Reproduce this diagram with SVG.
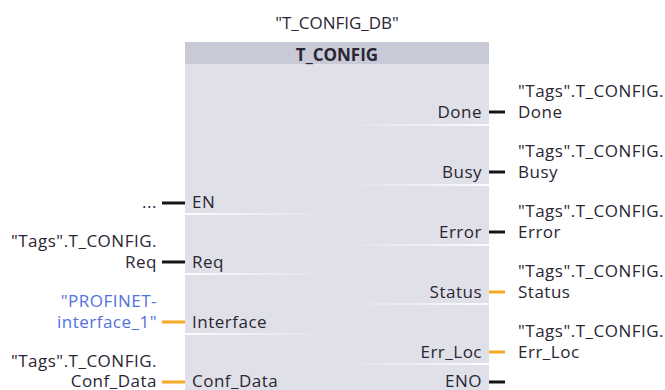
<svg xmlns="http://www.w3.org/2000/svg" width="665" height="390" viewBox="0 0 665 390">
<defs>
<linearGradient id="sepL" x1="0" y1="0" x2="1" y2="0">
<stop offset="0" stop-color="#ffffff" stop-opacity="0.9"/>
<stop offset="1" stop-color="#ffffff" stop-opacity="0"/>
</linearGradient>
<linearGradient id="sepR" x1="1" y1="0" x2="0" y2="0">
<stop offset="0" stop-color="#ffffff" stop-opacity="0.9"/>
<stop offset="1" stop-color="#ffffff" stop-opacity="0"/>
</linearGradient>
</defs>
<style>
text{font-family:"Open Sans","Noto Sans","Liberation Sans",sans-serif;font-size:17px;fill:#2a2633;letter-spacing:0.5px}
.r{text-anchor:end}
.m{text-anchor:middle;letter-spacing:0}
.b{font-weight:bold}
.blue{fill:#5271dd}
.blk{stroke:#141414;stroke-width:3}
.org{stroke:#f7a823;stroke-width:3}
</style>
<rect width="665" height="390" fill="#ffffff"/>
<g id="block">
<text class="m" x="337" y="29">"T_CONFIG_DB"</text>
<rect x="185" y="42" width="304" height="350" fill="#dfe0e8"/>
<rect x="185" y="42" width="304" height="22" fill="#c9cad7"/>
<text class="m b" x="337" y="61">T_CONFIG</text>
<rect x="185" y="213" width="150" height="2" fill="url(#sepL)"/>
<rect x="185" y="273" width="150" height="2" fill="url(#sepL)"/>
<rect x="185" y="333" width="150" height="2" fill="url(#sepL)"/>
<rect x="340" y="124" width="149" height="2" fill="url(#sepR)"/>
<rect x="340" y="184" width="149" height="2" fill="url(#sepR)"/>
<rect x="340" y="244" width="149" height="2" fill="url(#sepR)"/>
<rect x="340" y="303" width="149" height="2" fill="url(#sepR)"/>
<rect x="340" y="363" width="149" height="2" fill="url(#sepR)"/>
<text x="192" y="208">EN</text>
<text x="192" y="268">Req</text>
<text x="192" y="328">Interface</text>
<text x="192" y="387">Conf_Data</text>
<text class="r" x="482" y="118">Done</text>
<text class="r" x="482" y="178">Busy</text>
<text class="r" x="482" y="238">Error</text>
<text class="r" x="482" y="298">Status</text>
<text class="r" x="482" y="358">Err_Loc</text>
<text class="r" x="482" y="387">ENO</text>
</g>
<g id="connectors">
<line class="blk" x1="162" y1="203" x2="185" y2="203"/>
<line class="blk" x1="162" y1="262" x2="185" y2="262"/>
<line class="org" x1="162" y1="322" x2="185" y2="322"/>
<line class="org" x1="162" y1="382" x2="185" y2="382"/>
<line class="blk" x1="489" y1="112" x2="505" y2="112"/>
<line class="blk" x1="489" y1="172" x2="505" y2="172"/>
<line class="blk" x1="489" y1="232" x2="505" y2="232"/>
<line class="org" x1="489" y1="292" x2="505" y2="292"/>
<line class="org" x1="489" y1="352" x2="505" y2="352"/>
<line class="blk" x1="489" y1="382" x2="505" y2="382"/>
</g>
<g id="inputs">
<text class="r" x="157" y="208">...</text>
<text class="r" x="157" y="247">"Tags".T_CONFIG.</text>
<text class="r" x="157" y="268">Req</text>
<text class="r blue" x="157" y="307">"PROFINET-</text>
<text class="r blue" x="157" y="328">interface_1"</text>
<text class="r" x="157" y="367">"Tags".T_CONFIG.</text>
<text class="r" x="157" y="387">Conf_Data</text>
</g>
<g id="outputs">
<text x="518" y="97">"Tags".T_CONFIG.</text>
<text x="518" y="118">Done</text>
<text x="518" y="157">"Tags".T_CONFIG.</text>
<text x="518" y="178">Busy</text>
<text x="518" y="217">"Tags".T_CONFIG.</text>
<text x="518" y="238">Error</text>
<text x="518" y="277">"Tags".T_CONFIG.</text>
<text x="518" y="298">Status</text>
<text x="518" y="337">"Tags".T_CONFIG.</text>
<text x="518" y="358">Err_Loc</text>
</g>
</svg>
